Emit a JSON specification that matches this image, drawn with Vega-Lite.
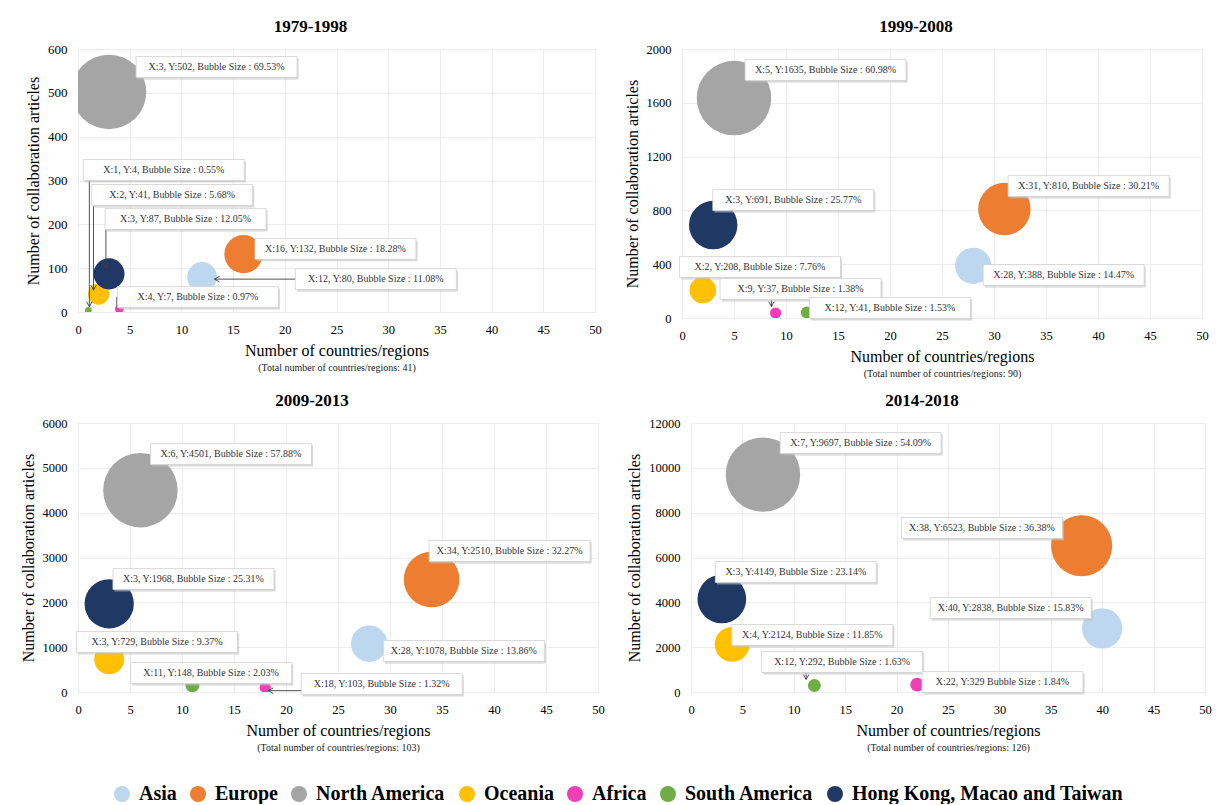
{
  "$schema": "https://vega.github.io/schema/vega-lite/v6.json",
  "padding": {"left": 19, "top": 17, "right": 0, "bottom": 0},
  "background": "white",
  "datasets": {
    "bubbles": [
      {"p":"1979-1998","region":"Asia","x":12,"y":80,"size":11.08,"label":"X:12, Y:80, Bubble Size : 11.08%","lx":28.8,"ly":75},
      {"p":"1979-1998","region":"Europe","x":16,"y":132,"size":18.28,"label":"X:16, Y:132, Bubble Size : 18.28%","lx":24.9,"ly":144},
      {"p":"1979-1998","region":"North America","x":3,"y":502,"size":69.53,"label":"X:3, Y:502, Bubble Size : 69.53%","lx":13.4,"ly":559},
      {"p":"1979-1998","region":"Oceania","x":2,"y":41,"size":5.68,"label":"X:2, Y:41, Bubble Size : 5.68%","lx":9.1,"ly":267},
      {"p":"1979-1998","region":"Africa","x":4,"y":7,"size":0.97,"label":"X:4, Y:7, Bubble Size : 0.97%","lx":11.6,"ly":34},
      {"p":"1979-1998","region":"South America","x":1,"y":4,"size":0.55,"label":"X:1, Y:4, Bubble Size : 0.55%","lx":8.3,"ly":324},
      {"p":"1979-1998","region":"Hong Kong, Macao and Taiwan","x":3,"y":87,"size":12.05,"label":"X:3, Y:87, Bubble Size : 12.05%","lx":10.4,"ly":212},

      {"p":"1999-2008","region":"Asia","x":28,"y":388,"size":14.47,"label":"X:28, Y:388, Bubble Size : 14.47%","lx":36.7,"ly":320},
      {"p":"1999-2008","region":"Europe","x":31,"y":810,"size":30.21,"label":"X:31, Y:810, Bubble Size : 30.21%","lx":39.1,"ly":981},
      {"p":"1999-2008","region":"North America","x":5,"y":1635,"size":60.98,"label":"X:5, Y:1635, Bubble Size : 60.98%","lx":13.8,"ly":1844},
      {"p":"1999-2008","region":"Oceania","x":2,"y":208,"size":7.76,"label":"X:2, Y:208, Bubble Size : 7.76%","lx":7.5,"ly":379},
      {"p":"1999-2008","region":"Africa","x":9,"y":37,"size":1.38,"label":"X:9, Y:37, Bubble Size : 1.38%","lx":11.4,"ly":216},
      {"p":"1999-2008","region":"South America","x":12,"y":41,"size":1.53,"label":"X:12, Y:41, Bubble Size : 1.53%","lx":20.0,"ly":74},
      {"p":"1999-2008","region":"Hong Kong, Macao and Taiwan","x":3,"y":691,"size":25.77,"label":"X:3, Y:691, Bubble Size : 25.77%","lx":10.7,"ly":877},

      {"p":"2009-2013","region":"Asia","x":28,"y":1078,"size":13.86,"label":"X:28, Y:1078, Bubble Size : 13.86%","lx":37.1,"ly":915},
      {"p":"2009-2013","region":"Europe","x":34,"y":2510,"size":32.27,"label":"X:34, Y:2510, Bubble Size : 32.27%","lx":41.5,"ly":3145},
      {"p":"2009-2013","region":"North America","x":6,"y":4501,"size":57.88,"label":"X:6, Y:4501, Bubble Size : 57.88%","lx":14.7,"ly":5309},
      {"p":"2009-2013","region":"Oceania","x":3,"y":729,"size":9.37,"label":"X:3, Y:729, Bubble Size : 9.37%","lx":7.6,"ly":1115},
      {"p":"2009-2013","region":"Africa","x":18,"y":103,"size":1.32,"label":"X:18, Y:103, Bubble Size : 1.32%","lx":29.2,"ly":178},
      {"p":"2009-2013","region":"South America","x":11,"y":148,"size":2.03,"label":"X:11, Y:148, Bubble Size : 2.03%","lx":12.8,"ly":424},
      {"p":"2009-2013","region":"Hong Kong, Macao and Taiwan","x":3,"y":1968,"size":25.31,"label":"X:3, Y:1968, Bubble Size : 25.31%","lx":11.1,"ly":2520},

      {"p":"2014-2018","region":"Asia","x":40,"y":2838,"size":15.83,"label":"X:40, Y:2838, Bubble Size : 15.83%","lx":31.1,"ly":3747},
      {"p":"2014-2018","region":"Europe","x":38,"y":6523,"size":36.38,"label":"X:38, Y:6523, Bubble Size : 36.38%","lx":28.3,"ly":7316},
      {"p":"2014-2018","region":"North America","x":7,"y":9697,"size":54.09,"label":"X:7, Y:9697, Bubble Size : 54.09%","lx":16.5,"ly":11108},
      {"p":"2014-2018","region":"Oceania","x":4,"y":2124,"size":11.85,"label":"X:4, Y:2124, Bubble Size : 11.85%","lx":11.8,"ly":2543},
      {"p":"2014-2018","region":"Africa","x":22,"y":329,"size":1.84,"label":"X:22, Y:329 Bubble Size : 1.84%","lx":30.3,"ly":446},
      {"p":"2014-2018","region":"South America","x":12,"y":292,"size":1.63,"label":"X:12, Y:292, Bubble Size : 1.63%","lx":14.7,"ly":1338},
      {"p":"2014-2018","region":"Hong Kong, Macao and Taiwan","x":3,"y":4149,"size":23.14,"label":"X:3, Y:4149, Bubble Size : 23.14%","lx":10.2,"ly":5353}
    ],
    "arrows": [
      {"p":"1979-1998","region":"South America","x":1.1,"y":12,"x2":1.1,"y2":324},
      {"p":"1979-1998","region":"Oceania","x":1.5,"y":50,"x2":1.5,"y2":267},
      {"p":"1979-1998","region":"Hong Kong, Macao and Taiwan","x":2.7,"y":100,"x2":2.7,"y2":212},
      {"p":"1979-1998","region":"Asia","x":13.2,"y":75,"x2":28.8,"y2":75},
      {"p":"1979-1998","region":"Africa","x":3.75,"y":12,"x2":3.75,"y2":34},
      {"p":"1999-2008","region":"Africa","x":8.6,"y":85,"x2":8.6,"y2":216},
      {"p":"2009-2013","region":"Africa","x":18.3,"y":30,"x2":25,"y2":30},
      {"p":"2014-2018","region":"South America","x":11.2,"y":560,"x2":11.2,"y2":1338}
    ]
  },
  "vconcat": [
    {
      "hconcat": [
        {
          "title": {"text": "1979-1998", "dx": -26},
          "width": 517, "height": 263,
          "resolve": {"scale": {"x": "independent"}, "axis": {"x": "independent"}},
          "layer": [
            {"layer": [
              {"data": {"name": "bubbles"}, "transform": [{"filter": "datum.p == '1979-1998'"}],
               "mark": {"type": "point", "filled": true, "shape": "circle", "opacity": 1, "strokeWidth": 0, "clip": true},
               "encoding": {
                 "x": {"field": "x", "type": "quantitative", "scale": {"domain": [0, 50], "nice": false}, "title": "Number of countries/regions"},
                 "y": {"field": "y", "type": "quantitative", "scale": {"domain": [0, 600], "nice": false}, "title": "Number of collaboration articles", "axis": {"values": [0,100,200,300,400,500,600], "labelFontSize": 13}},
                 "size": {"field": "size", "type": "quantitative", "scale": {"domain": [0, 69.53], "range": [0, 5550]}, "legend": null},
                 "color": {"field": "region", "type": "nominal", "scale": {"domain": ["Asia","Europe","North America","Oceania","Africa","South America","Hong Kong, Macao and Taiwan"], "range": ["#bdd7ee","#ed7d31","#a5a5a5","#ffc000","#ee3fb8","#70ad47","#203864"]}, "legend": {"orient": "none", "legendX": 34, "legendY": 735, "direction": "horizontal", "title": null}}
               }},
              {"data": {"name": "arrows"}, "transform": [{"filter": "datum.p == '1979-1998'"}],
               "mark": {"type": "rule", "color": "#404040", "strokeWidth": 0.9},
               "encoding": {
                 "x": {"field": "x", "type": "quantitative", "scale": {"domain": [0, 50], "nice": false}, "title": "Number of countries/regions"},
                 "y": {"field": "y", "type": "quantitative", "scale": {"domain": [0, 600], "nice": false}, "title": "Number of collaboration articles"},
                 "x2": {"field": "x2"}, "y2": {"field": "y2"}
               }},
              {"data": {"name": "arrows"}, "transform": [{"filter": "datum.p == '1979-1998' && datum.region != 'Africa'"}, {"calculate": "abs(datum.x2 - datum.x) < 0.5 ? 0 : 90", "as": "ang"}],
               "mark": {"type": "point", "filled": false, "shape": "M-0.55,-1 L0,0 L0.55,-1", "size": 100, "color": "#404040", "strokeWidth": 0.9, "opacity": 1},
               "encoding": {
                 "x": {"field": "x", "type": "quantitative", "scale": {"domain": [0, 50], "nice": false}, "title": "Number of countries/regions"},
                 "y": {"field": "y", "type": "quantitative", "scale": {"domain": [0, 600], "nice": false}, "title": "Number of collaboration articles"},
                 "angle": {"field": "ang", "type": "quantitative", "scale": null}
               }},
              {"data": {"name": "bubbles"}, "transform": [{"filter": "datum.p == '1979-1998'"}],
               "mark": {"type": "point", "filled": true, "shape": "M-0.98,-0.105 L1.02,-0.105 L1.02,0.155 L-0.98,0.155 Z", "size": 25921, "color": "#bfbfbf", "opacity": 0.6, "strokeWidth": 0},
               "encoding": {
                 "x": {"field": "lx", "type": "quantitative", "scale": {"domain": [0, 50], "nice": false}, "title": "Number of countries/regions"},
                 "y": {"field": "ly", "type": "quantitative", "scale": {"domain": [0, 600], "nice": false}, "title": "Number of collaboration articles"}
               }},
              {"data": {"name": "bubbles"}, "transform": [{"filter": "datum.p == '1979-1998'"}],
               "mark": {"type": "point", "filled": true, "shape": "M-1,-0.13 L1,-0.13 L1,0.13 L-1,0.13 Z", "size": 25921, "fill": "white", "stroke": "#d0d0d0", "strokeWidth": 0.8, "opacity": 1},
               "encoding": {
                 "x": {"field": "lx", "type": "quantitative", "scale": {"domain": [0, 50], "nice": false}, "title": "Number of countries/regions"},
                 "y": {"field": "ly", "type": "quantitative", "scale": {"domain": [0, 600], "nice": false}, "title": "Number of collaboration articles"}
               }}
            ]},
            {"data": {"name": "bubbles"}, "transform": [{"filter": "datum.p == '1979-1998'"}],
             "mark": {"type": "text", "font": "Liberation Serif", "fontSize": 10, "color": "#333333", "align": "center", "baseline": "middle"},
             "encoding": {
               "x": {"field": "lx", "type": "quantitative", "scale": {"domain": [0, 50], "nice": false}, "axis": {"orient": "bottom", "labels": false, "grid": false, "domain": false, "ticks": false, "title": "(Total number of countries/regions: 41)", "titleFontSize": 10, "titlePadding": 50, "titleColor": "#222222"}},
               "y": {"field": "ly", "type": "quantitative", "scale": {"domain": [0, 600], "nice": false}, "title": "Number of collaboration articles"},
               "text": {"field": "label"}
             }}
          ]
        },
        {
          "title": {"text": "1999-2008", "dx": -26},
          "width": 520, "height": 269,
          "resolve": {"scale": {"x": "independent"}, "axis": {"x": "independent"}},
          "layer": [
            {"layer": [
              {"data": {"name": "bubbles"}, "transform": [{"filter": "datum.p == '1999-2008'"}],
               "mark": {"type": "point", "filled": true, "shape": "circle", "opacity": 1, "strokeWidth": 0, "clip": true},
               "encoding": {
                 "x": {"field": "x", "type": "quantitative", "scale": {"domain": [0, 50], "nice": false}, "title": "Number of countries/regions"},
                 "y": {"field": "y", "type": "quantitative", "scale": {"domain": [0, 2000], "nice": false}, "title": "Number of collaboration articles", "axis": {"values": [0,200,400,600,800,1000,1200,1400,1600,1800,2000]}},
                 "size": {"field": "size", "type": "quantitative", "scale": {"domain": [0, 60.98], "range": [0, 5550]}, "legend": null},
                 "color": {"field": "region", "type": "nominal", "scale": {"domain": ["Asia","Europe","North America","Oceania","Africa","South America","Hong Kong, Macao and Taiwan"], "range": ["#bdd7ee","#ed7d31","#a5a5a5","#ffc000","#ee3fb8","#70ad47","#203864"]}, "legend": {"orient": "none", "legendX": 34, "legendY": 735, "direction": "horizontal", "title": null}}
               }},
              {"data": {"name": "arrows"}, "transform": [{"filter": "datum.p == '1999-2008'"}],
               "mark": {"type": "rule", "color": "#404040", "strokeWidth": 0.9},
               "encoding": {
                 "x": {"field": "x", "type": "quantitative", "scale": {"domain": [0, 50], "nice": false}, "title": "Number of countries/regions"},
                 "y": {"field": "y", "type": "quantitative", "scale": {"domain": [0, 2000], "nice": false}, "title": "Number of collaboration articles"},
                 "x2": {"field": "x2"}, "y2": {"field": "y2"}
               }},
              {"data": {"name": "arrows"}, "transform": [{"filter": "datum.p == '1999-2008'"}, {"calculate": "abs(datum.x2 - datum.x) < 0.5 ? 0 : 90", "as": "ang"}],
               "mark": {"type": "point", "filled": false, "shape": "M-0.55,-1 L0,0 L0.55,-1", "size": 100, "color": "#404040", "strokeWidth": 0.9, "opacity": 1},
               "encoding": {
                 "x": {"field": "x", "type": "quantitative", "scale": {"domain": [0, 50], "nice": false}, "title": "Number of countries/regions"},
                 "y": {"field": "y", "type": "quantitative", "scale": {"domain": [0, 2000], "nice": false}, "title": "Number of collaboration articles"},
                 "angle": {"field": "ang", "type": "quantitative", "scale": null}
               }},
              {"data": {"name": "bubbles"}, "transform": [{"filter": "datum.p == '1999-2008'"}],
               "mark": {"type": "point", "filled": true, "shape": "M-0.98,-0.105 L1.02,-0.105 L1.02,0.155 L-0.98,0.155 Z", "size": 25921, "color": "#bfbfbf", "opacity": 0.6, "strokeWidth": 0},
               "encoding": {
                 "x": {"field": "lx", "type": "quantitative", "scale": {"domain": [0, 50], "nice": false}, "title": "Number of countries/regions"},
                 "y": {"field": "ly", "type": "quantitative", "scale": {"domain": [0, 2000], "nice": false}, "title": "Number of collaboration articles"}
               }},
              {"data": {"name": "bubbles"}, "transform": [{"filter": "datum.p == '1999-2008'"}],
               "mark": {"type": "point", "filled": true, "shape": "M-1,-0.13 L1,-0.13 L1,0.13 L-1,0.13 Z", "size": 25921, "fill": "white", "stroke": "#d0d0d0", "strokeWidth": 0.8, "opacity": 1},
               "encoding": {
                 "x": {"field": "lx", "type": "quantitative", "scale": {"domain": [0, 50], "nice": false}, "title": "Number of countries/regions"},
                 "y": {"field": "ly", "type": "quantitative", "scale": {"domain": [0, 2000], "nice": false}, "title": "Number of collaboration articles"}
               }}
            ]},
            {"data": {"name": "bubbles"}, "transform": [{"filter": "datum.p == '1999-2008'"}],
             "mark": {"type": "text", "font": "Liberation Serif", "fontSize": 10, "color": "#333333", "align": "center", "baseline": "middle"},
             "encoding": {
               "x": {"field": "lx", "type": "quantitative", "scale": {"domain": [0, 50], "nice": false}, "axis": {"orient": "bottom", "labels": false, "grid": false, "domain": false, "ticks": false, "title": "(Total number of countries/regions: 90)", "titleFontSize": 10, "titlePadding": 50, "titleColor": "#222222"}},
               "y": {"field": "ly", "type": "quantitative", "scale": {"domain": [0, 2000], "nice": false}, "title": "Number of collaboration articles"},
               "text": {"field": "label"}
             }}
          ]
        }
      ],
      "spacing": 21,
      "resolve": {"scale": {"size": "independent"}}
    },
    {
      "hconcat": [
        {
          "title": {"text": "2009-2013", "dx": -26},
          "width": 520, "height": 269,
          "resolve": {"scale": {"x": "independent"}, "axis": {"x": "independent"}},
          "layer": [
            {"layer": [
              {"data": {"name": "bubbles"}, "transform": [{"filter": "datum.p == '2009-2013'"}],
               "mark": {"type": "point", "filled": true, "shape": "circle", "opacity": 1, "strokeWidth": 0, "clip": true},
               "encoding": {
                 "x": {"field": "x", "type": "quantitative", "scale": {"domain": [0, 50], "nice": false}, "title": "Number of countries/regions"},
                 "y": {"field": "y", "type": "quantitative", "scale": {"domain": [0, 6000], "nice": false}, "title": "Number of collaboration articles", "axis": {"values": [0,1000,2000,3000,4000,5000,6000]}},
                 "size": {"field": "size", "type": "quantitative", "scale": {"domain": [0, 57.88], "range": [0, 5550]}, "legend": null},
                 "color": {"field": "region", "type": "nominal", "scale": {"domain": ["Asia","Europe","North America","Oceania","Africa","South America","Hong Kong, Macao and Taiwan"], "range": ["#bdd7ee","#ed7d31","#a5a5a5","#ffc000","#ee3fb8","#70ad47","#203864"]}, "legend": {"orient": "none", "legendX": 34, "legendY": 735, "direction": "horizontal", "title": null}}
               }},
              {"data": {"name": "arrows"}, "transform": [{"filter": "datum.p == '2009-2013'"}],
               "mark": {"type": "rule", "color": "#404040", "strokeWidth": 0.9},
               "encoding": {
                 "x": {"field": "x", "type": "quantitative", "scale": {"domain": [0, 50], "nice": false}, "title": "Number of countries/regions"},
                 "y": {"field": "y", "type": "quantitative", "scale": {"domain": [0, 6000], "nice": false}, "title": "Number of collaboration articles"},
                 "x2": {"field": "x2"}, "y2": {"field": "y2"}
               }},
              {"data": {"name": "arrows"}, "transform": [{"filter": "datum.p == '2009-2013'"}, {"calculate": "abs(datum.x2 - datum.x) < 0.5 ? 0 : 90", "as": "ang"}],
               "mark": {"type": "point", "filled": false, "shape": "M-0.55,-1 L0,0 L0.55,-1", "size": 100, "color": "#404040", "strokeWidth": 0.9, "opacity": 1},
               "encoding": {
                 "x": {"field": "x", "type": "quantitative", "scale": {"domain": [0, 50], "nice": false}, "title": "Number of countries/regions"},
                 "y": {"field": "y", "type": "quantitative", "scale": {"domain": [0, 6000], "nice": false}, "title": "Number of collaboration articles"},
                 "angle": {"field": "ang", "type": "quantitative", "scale": null}
               }},
              {"data": {"name": "bubbles"}, "transform": [{"filter": "datum.p == '2009-2013'"}],
               "mark": {"type": "point", "filled": true, "shape": "M-0.98,-0.105 L1.02,-0.105 L1.02,0.155 L-0.98,0.155 Z", "size": 25921, "color": "#bfbfbf", "opacity": 0.6, "strokeWidth": 0},
               "encoding": {
                 "x": {"field": "lx", "type": "quantitative", "scale": {"domain": [0, 50], "nice": false}, "title": "Number of countries/regions"},
                 "y": {"field": "ly", "type": "quantitative", "scale": {"domain": [0, 6000], "nice": false}, "title": "Number of collaboration articles"}
               }},
              {"data": {"name": "bubbles"}, "transform": [{"filter": "datum.p == '2009-2013'"}],
               "mark": {"type": "point", "filled": true, "shape": "M-1,-0.13 L1,-0.13 L1,0.13 L-1,0.13 Z", "size": 25921, "fill": "white", "stroke": "#d0d0d0", "strokeWidth": 0.8, "opacity": 1},
               "encoding": {
                 "x": {"field": "lx", "type": "quantitative", "scale": {"domain": [0, 50], "nice": false}, "title": "Number of countries/regions"},
                 "y": {"field": "ly", "type": "quantitative", "scale": {"domain": [0, 6000], "nice": false}, "title": "Number of collaboration articles"}
               }}
            ]},
            {"data": {"name": "bubbles"}, "transform": [{"filter": "datum.p == '2009-2013'"}],
             "mark": {"type": "text", "font": "Liberation Serif", "fontSize": 10, "color": "#333333", "align": "center", "baseline": "middle"},
             "encoding": {
               "x": {"field": "lx", "type": "quantitative", "scale": {"domain": [0, 50], "nice": false}, "axis": {"orient": "bottom", "labels": false, "grid": false, "domain": false, "ticks": false, "title": "(Total number of countries/regions: 103)", "titleFontSize": 10, "titlePadding": 50, "titleColor": "#222222"}},
               "y": {"field": "ly", "type": "quantitative", "scale": {"domain": [0, 6000], "nice": false}, "title": "Number of collaboration articles"},
               "text": {"field": "label"}
             }}
          ]
        },
        {
          "title": {"text": "2014-2018", "dx": -26},
          "width": 514, "height": 269,
          "resolve": {"scale": {"x": "independent"}, "axis": {"x": "independent"}},
          "layer": [
            {"layer": [
              {"data": {"name": "bubbles"}, "transform": [{"filter": "datum.p == '2014-2018'"}],
               "mark": {"type": "point", "filled": true, "shape": "circle", "opacity": 1, "strokeWidth": 0, "clip": true},
               "encoding": {
                 "x": {"field": "x", "type": "quantitative", "scale": {"domain": [0, 50], "nice": false}, "title": "Number of countries/regions"},
                 "y": {"field": "y", "type": "quantitative", "scale": {"domain": [0, 12000], "nice": false}, "title": "Number of collaboration articles", "axis": {"values": [0,2000,4000,6000,8000,10000,12000]}},
                 "size": {"field": "size", "type": "quantitative", "scale": {"domain": [0, 54.09], "range": [0, 5550]}, "legend": null},
                 "color": {"field": "region", "type": "nominal", "scale": {"domain": ["Asia","Europe","North America","Oceania","Africa","South America","Hong Kong, Macao and Taiwan"], "range": ["#bdd7ee","#ed7d31","#a5a5a5","#ffc000","#ee3fb8","#70ad47","#203864"]}, "legend": {"orient": "none", "legendX": 34, "legendY": 735, "direction": "horizontal", "title": null}}
               }},
              {"data": {"name": "arrows"}, "transform": [{"filter": "datum.p == '2014-2018'"}],
               "mark": {"type": "rule", "color": "#404040", "strokeWidth": 0.9},
               "encoding": {
                 "x": {"field": "x", "type": "quantitative", "scale": {"domain": [0, 50], "nice": false}, "title": "Number of countries/regions"},
                 "y": {"field": "y", "type": "quantitative", "scale": {"domain": [0, 12000], "nice": false}, "title": "Number of collaboration articles"},
                 "x2": {"field": "x2"}, "y2": {"field": "y2"}
               }},
              {"data": {"name": "arrows"}, "transform": [{"filter": "datum.p == '2014-2018'"}, {"calculate": "abs(datum.x2 - datum.x) < 0.5 ? 0 : 90", "as": "ang"}],
               "mark": {"type": "point", "filled": false, "shape": "M-0.55,-1 L0,0 L0.55,-1", "size": 100, "color": "#404040", "strokeWidth": 0.9, "opacity": 1},
               "encoding": {
                 "x": {"field": "x", "type": "quantitative", "scale": {"domain": [0, 50], "nice": false}, "title": "Number of countries/regions"},
                 "y": {"field": "y", "type": "quantitative", "scale": {"domain": [0, 12000], "nice": false}, "title": "Number of collaboration articles"},
                 "angle": {"field": "ang", "type": "quantitative", "scale": null}
               }},
              {"data": {"name": "bubbles"}, "transform": [{"filter": "datum.p == '2014-2018'"}],
               "mark": {"type": "point", "filled": true, "shape": "M-0.98,-0.105 L1.02,-0.105 L1.02,0.155 L-0.98,0.155 Z", "size": 25921, "color": "#bfbfbf", "opacity": 0.6, "strokeWidth": 0},
               "encoding": {
                 "x": {"field": "lx", "type": "quantitative", "scale": {"domain": [0, 50], "nice": false}, "title": "Number of countries/regions"},
                 "y": {"field": "ly", "type": "quantitative", "scale": {"domain": [0, 12000], "nice": false}, "title": "Number of collaboration articles"}
               }},
              {"data": {"name": "bubbles"}, "transform": [{"filter": "datum.p == '2014-2018'"}],
               "mark": {"type": "point", "filled": true, "shape": "M-1,-0.13 L1,-0.13 L1,0.13 L-1,0.13 Z", "size": 25921, "fill": "white", "stroke": "#d0d0d0", "strokeWidth": 0.8, "opacity": 1},
               "encoding": {
                 "x": {"field": "lx", "type": "quantitative", "scale": {"domain": [0, 50], "nice": false}, "title": "Number of countries/regions"},
                 "y": {"field": "ly", "type": "quantitative", "scale": {"domain": [0, 12000], "nice": false}, "title": "Number of collaboration articles"}
               }}
            ]},
            {"data": {"name": "bubbles"}, "transform": [{"filter": "datum.p == '2014-2018'"}],
             "mark": {"type": "text", "font": "Liberation Serif", "fontSize": 10, "color": "#333333", "align": "center", "baseline": "middle"},
             "encoding": {
               "x": {"field": "lx", "type": "quantitative", "scale": {"domain": [0, 50], "nice": false}, "axis": {"orient": "bottom", "labels": false, "grid": false, "domain": false, "ticks": false, "title": "(Total number of countries/regions: 126)", "titleFontSize": 10, "titlePadding": 50, "titleColor": "#222222"}},
               "y": {"field": "ly", "type": "quantitative", "scale": {"domain": [0, 12000], "nice": false}, "title": "Number of collaboration articles"},
               "text": {"field": "label"}
             }}
          ]
        }
      ],
      "spacing": 21,
      "resolve": {"scale": {"size": "independent"}}
    }
  ],
  "spacing": 12,
  "resolve": {"scale": {"size": "independent"}},
  "config": {
    "font": "Liberation Serif",
    "view": {"stroke": "#b0b0b0", "strokeWidth": 1},
    "title": {"font": "Liberation Serif", "fontSize": 17, "fontWeight": "bold", "color": "#000000", "offset": 7, "anchor": "middle"},
    "axis": {"labelFont": "Liberation Serif", "titleFont": "Liberation Serif", "labelColor": "#000000", "titleColor": "#000000", "labelFontSize": 12.5, "titleFontSize": 16, "titleFontWeight": "normal", "ticks": false, "tickSize": 0, "labelPadding": 11, "grid": true, "gridColor": "#ededed", "gridWidth": 1, "domain": false, "labelFlush": false, "labelOverlap": false},
    "axisX": {"titlePadding": 7},
    "axisY": {"titlePadding": 6, "format": "d"},
    "legend": {"labelFont": "Liberation Serif", "labelFontSize": 20, "labelFontWeight": "bold", "labelColor": "#000000", "symbolType": "circle", "symbolSize": 256, "symbolStrokeWidth": 0, "symbolOpacity": 1, "labelOffset": 7, "columnPadding": 11, "padding": 0, "labelLimit": 400}
  }
}
